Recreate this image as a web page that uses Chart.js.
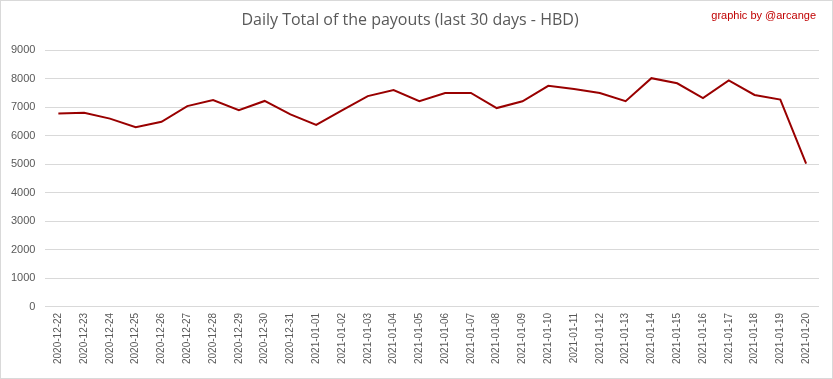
<!DOCTYPE html>
<html>
<head>
<meta charset="utf-8">
<script src="https://cdn.jsdelivr.net/npm/chart.js@4"></script>
<style>
    html, body { margin: 0; padding: 0; background: #fff; }
    #wrap {
        width: 833px; height: 379px; box-sizing: border-box;
        border: 1px solid #d9d9d9; background: #fff;
    }
</style>
</head>
<body>
<div id="wrap"><canvas id="myChart" width="831" height="377"></canvas></div>
<script>
const days = [
    '2020-12-22', '2020-12-23', '2020-12-24', '2020-12-25', '2020-12-26', '2020-12-27',
    '2020-12-28', '2020-12-29', '2020-12-30', '2020-12-31', '2021-01-01', '2021-01-02',
    '2021-01-03', '2021-01-04', '2021-01-05', '2021-01-06', '2021-01-07', '2021-01-08',
    '2021-01-09', '2021-01-10', '2021-01-11', '2021-01-12', '2021-01-13', '2021-01-14',
    '2021-01-15', '2021-01-16', '2021-01-17', '2021-01-18', '2021-01-19', '2021-01-20'
];
const payouts = [
    6780, 6810, 6600, 6300, 6490, 7040,
    7250, 6900, 7220, 6750, 6380, 6890,
    7390, 7600, 7210, 7500, 7500, 6970,
    7210, 7750, 7640, 7500, 7210, 8020,
    7840, 7320, 7940, 7430, 7270, 5020
];
const yTicks = [0, 1000, 2000, 3000, 4000, 5000, 6000, 7000, 8000, 9000];

const textGray = '#595959';
const gridGray = '#d9d9d9';

// credit text in the top right corner
const creditPlugin = {
    id: 'credit',
    afterDraw(chart) {
        const ctx = chart.ctx;
        ctx.save();
        ctx.font = '11px "Liberation Sans", sans-serif';
        ctx.fillStyle = '#c00000';
        ctx.textAlign = 'right';
        ctx.textBaseline = 'middle';
        ctx.fillText('graphic by @arcange', 815, 15);
        ctx.restore();
    }
};

const ctx = document.getElementById('myChart');
const myChart = new Chart(ctx, {
    type: 'line',
    data: {
        labels: days,
        datasets: [{
            label: 'HBD',
            data: payouts,
            borderColor: '#990000',
            backgroundColor: '#990000',
            borderWidth: 2,
            pointRadius: 0,
            tension: 0,
            fill: false
        }]
    },
    options: {
        responsive: false,
        animation: false,
        layout: {
            padding: { left: 0, right: 13, top: 0, bottom: 8 }
        },
        plugins: {
            legend: { display: false },
            tooltip: { enabled: false },
            title: {
                display: true,
                text: 'Daily Total of the payouts (last 30 days - HBD)',
                color: textGray,
                font: { family: '"Open Sans", sans-serif', size: 16, weight: 'normal' },
                padding: { top: 10, bottom: 20 }
            }
        },
        scales: {
            x: {
                offset: true,
                grid: { display: false, drawTicks: false },
                border: { display: false },
                ticks: {
                    color: textGray,
                    font: { family: '"Liberation Sans", sans-serif', size: 10 },
                    maxRotation: 90,
                    minRotation: 90,
                    autoSkip: false,
                    padding: 6
                }
            },
            y: {
                min: 0,
                max: 9000,
                afterBuildTicks: (axis) => { axis.ticks = yTicks.map(v => ({ value: v })); },
                grid: { color: gridGray, drawTicks: false, lineWidth: 1 },
                border: { display: false },
                ticks: {
                    color: textGray,
                    font: { family: '"Liberation Sans", sans-serif', size: 11 },
                    padding: 10,
                    callback: (v) => String(v)
                }
            }
        }
    },
    plugins: [creditPlugin]
});
</script>
</body>
</html>
